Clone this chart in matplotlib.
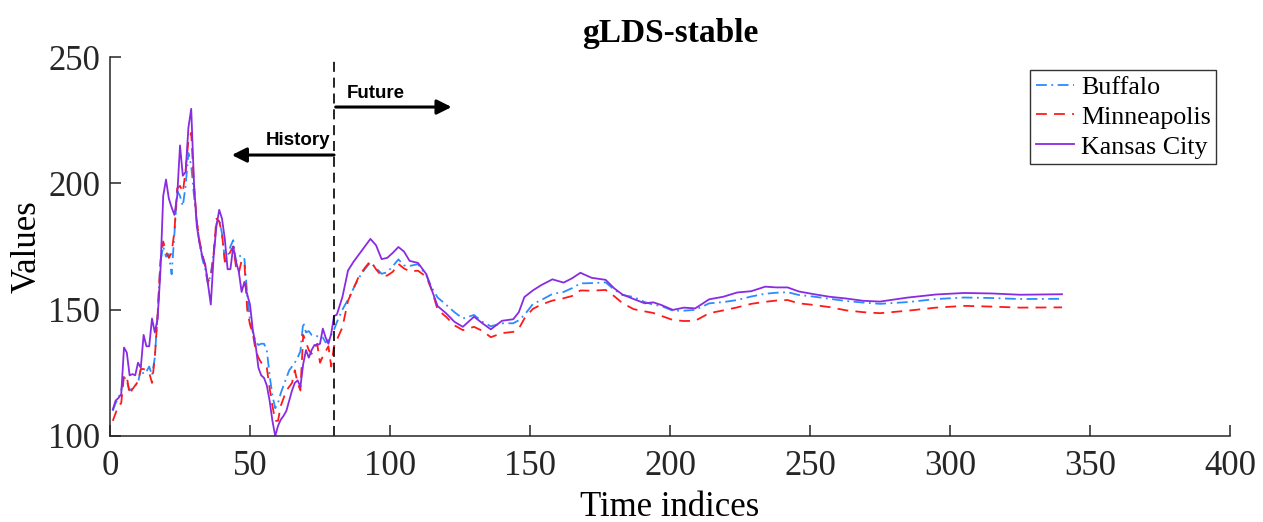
# -*- coding:utf-8 -*-
# !/usr/bin/env python
#---------------------------------------------------------------------------------
# FILE: plot.py
# Description: gLDS-stable forecast of three city series, history vs. future
#---------------------------------------------------------------------------------

import numpy as np
import matplotlib
matplotlib.use('Agg')
import matplotlib.pyplot as plt

#---------------------------------------------------------------------------------
# DATA

# history part, one value per time index 1..80
hist_t = list(range(1, 81))

buffalo_hist = [
    110, 113, 115, 118, 123.5, 121.5, 118, 119, 120, 121,
    126.5, 124.5, 125.5, 127.5, 124, 131, 148, 169, 175, 171,
    172, 164, 180, 197, 195, 191, 199, 212, 207, 195,
    185, 176, 170, 166, 160, 164, 172, 184, 186, 180,
    170, 171, 175, 177.5, 169, 171, 171.5, 170, 156, 146,
    141, 137.5, 136, 136.5, 136.5, 134, 124, 116, 111, 113,
    117, 120, 123, 126, 127.5, 129, 131, 133.5, 145, 141,
    141.5, 140, 139.5, 139.5, 139, 139, 137, 138, 140, 142,
]
minneapolis_hist = [
    106, 109, 112, 113, 124, 123.5, 116.5, 118.5, 120, 121.5,
    126.5, 126.5, 126, 125, 121, 131, 148, 169, 177, 173,
    170.5, 172.5, 181, 198, 199, 196.5, 205, 217, 220, 199,
    185, 177, 172, 167, 161, 163, 172, 186, 185, 180,
    169, 170.5, 173, 175, 167, 164.5, 169.5, 168.5, 150, 144,
    140.5, 134, 131, 129, 129, 127, 119, 112, 106, 106,
    112, 115, 118, 119.5, 121, 126, 121, 118, 140, 137,
    134, 132.5, 135, 136.5, 129, 131.5, 133.5, 135.5, 127.5, 135.5,
]
kansas_hist = [
    110.5, 114, 115, 116.5, 135, 133, 124, 124.5, 124, 129,
    127, 140, 135.5, 135.5, 146.5, 141, 146.5, 165, 195, 201.5,
    194, 190.5, 187.5, 195, 215, 203, 204.5, 222, 229.5, 200,
    183, 176, 171, 168, 160, 152, 171, 183, 189.5, 186,
    178, 166, 166, 175, 169, 165, 157, 161, 156, 152,
    142, 136, 127, 124, 123, 120, 114, 106, 100, 104,
    106.5, 108, 110, 114, 118, 121, 122, 119.5, 128.5, 134,
    131, 134, 136, 136, 136.5, 142.5, 139, 136.5, 140.5, 147.5,
]

# future part (smooth), read at these time indices
fut_t = [
    81, 83, 85, 87, 89, 91, 93, 95, 97, 99,
    101, 103, 105, 107, 110, 113, 115, 117, 120, 123,
    126, 130, 133, 136, 140, 144, 146, 148, 151, 154,
    158, 162, 165, 168, 172, 177, 180, 183, 187, 191,
    194, 197, 201, 205, 209, 214, 219, 224, 229, 234,
    238, 242, 246, 251, 257, 263, 269, 275, 285, 295,
    305, 315, 325, 340,
]
buffalo_fut = [
    145, 150, 154, 158.5, 162.8, 166, 168.7, 166.5, 164.2, 164.8,
    167.2, 169.9, 167.5, 167.3, 168, 163.5, 158.5, 154.8, 152, 149,
    146.5, 147.9, 145.2, 143.4, 144.6, 144.6, 145.8, 147.9, 152.2, 153.8,
    156.2, 157, 158.5, 160.4, 160.5, 160.8, 158, 155.8, 155, 153,
    152, 151.4, 149.6, 149.6, 149.9, 152.5, 153, 153.8, 155.2, 156.3,
    156.7, 156.9, 155.8, 155.2, 154.3, 153.4, 152.8, 152.3, 153, 154.2,
    154.8, 154.6, 154.2, 154.3,
]
minneapolis_fut = [
    138, 143, 153.5, 158.5, 163.5, 166.5, 169.3, 166, 163.3, 163.5,
    165, 168.1, 166.3, 165.2, 165.4, 163, 157.5, 150, 147.2, 143.8,
    141.9, 143.2, 141.6, 139.1, 140.7, 141.2, 142.5, 146.5, 150.3, 152,
    153.6, 154.5, 155.4, 157.6, 157.5, 157.8, 155.4, 152.6, 150.2, 149.3,
    148.7, 147.5, 145.9, 145.5, 145.6, 148.6, 149.7, 150.9, 152.3, 153.1,
    153.6, 153.8, 152.5, 151.9, 151, 149.7, 149, 148.6, 149.6, 150.8,
    151.5, 151.2, 150.8, 150.9,
]
kansas_fut = [
    148, 155, 165.5, 169, 172, 175, 178, 175.5, 170, 170.5,
    172.5, 174.8, 173, 169.3, 168.5, 164, 157.5, 151.4, 148.6, 145.2,
    143.2, 147.2, 144.6, 142.2, 145.6, 146.2, 149, 155, 157.6, 159.7,
    162, 160.7, 162.4, 164.6, 162.6, 161.8, 158.5, 156, 154.2, 152.5,
    152.9, 151.8, 149.9, 150.8, 150.5, 154.1, 155.1, 156.8, 157.3, 159.1,
    158.8, 158.8, 157.2, 156.2, 155.1, 154.4, 153.5, 153.2, 154.8, 156,
    156.6, 156.4, 155.9, 156.1,
]

split_t = 80   # last history index

#---------------------------------------------------------------------------------
# PLOT

plt.rcParams['font.family'] = ['Liberation Serif', 'DejaVu Serif']

fig = plt.figure(figsize=(12.63, 5.22), dpi=100)
ax = fig.add_axes([0.0871, 0.1648, 0.8868, 0.726])

t_all = np.array(hist_t + fut_t)
series = [
    ('Buffalo', buffalo_hist + buffalo_fut, '#2a8cff', (0, (6, 2.5, 1, 2.5))),
    ('Minneapolis', minneapolis_hist + minneapolis_fut, '#ff1a1a', (0, (6, 4))),
    ('Kansas City', kansas_hist + kansas_fut, '#8a2be2', '-'),
]
for name, vals, color, ls in series:
    ax.plot(t_all, vals, color=color, linestyle=ls, lw=1.3, label=name)

# history / future split
ax.axvline(split_t, color='black', linestyle=(0, (6, 3.5)), lw=1.2)

arrow_kw = dict(arrowstyle='-|>', color='black', lw=2.2, mutation_scale=22,
                shrinkA=0, shrinkB=0)
ax.annotate('', xy=(122, 230.2), xytext=(split_t + 0.6, 230.2), arrowprops=arrow_kw)
ax.annotate('', xy=(43.5, 211.2), xytext=(split_t, 211.2), arrowprops=arrow_kw)
ax.text(84.5, 235.7, 'Future', fontsize=13.5, fontweight='bold',
        family=['Liberation Sans'], ha='left', va='center')
ax.text(78.6, 217, 'History', fontsize=13.5, fontweight='bold',
        family=['Liberation Sans'], ha='right', va='center')

ax.set_xlim(0, 400)
ax.set_ylim(100, 250)
ax.set_xticks([0, 50, 100, 150, 200, 250, 300, 350, 400])
ax.set_yticks([100, 150, 200, 250])
ax.tick_params(direction='in', length=8, width=1.1, labelsize=25,
               colors='#262626')
ax.tick_params(axis='x', pad=10)
ax.tick_params(axis='y', pad=7)
for side in ['top', 'right']:
    ax.spines[side].set_visible(False)
for side in ['left', 'bottom']:
    ax.spines[side].set_linewidth(1.1)
    ax.spines[side].set_color('#262626')

ax.set_xlabel('Time indices', fontsize=25, labelpad=6)
ax.set_ylabel('Values', fontsize=25, labelpad=3)
ax.set_title('gLDS-stable', fontsize=24, fontweight='bold', pad=11)

leg = ax.legend(loc='upper right', bbox_to_anchor=(0.9875, 0.965), fontsize=18.7,
                frameon=True, fancybox=False, edgecolor='black',
                handlelength=1.5, handletextpad=0.25, borderpad=0.2,
                labelspacing=0.26, borderaxespad=0)
leg.get_frame().set_linewidth(1.0)

fig.savefig('out.png', dpi=100)

# END OF FILE
#---------------------------------------------------------------------------------
